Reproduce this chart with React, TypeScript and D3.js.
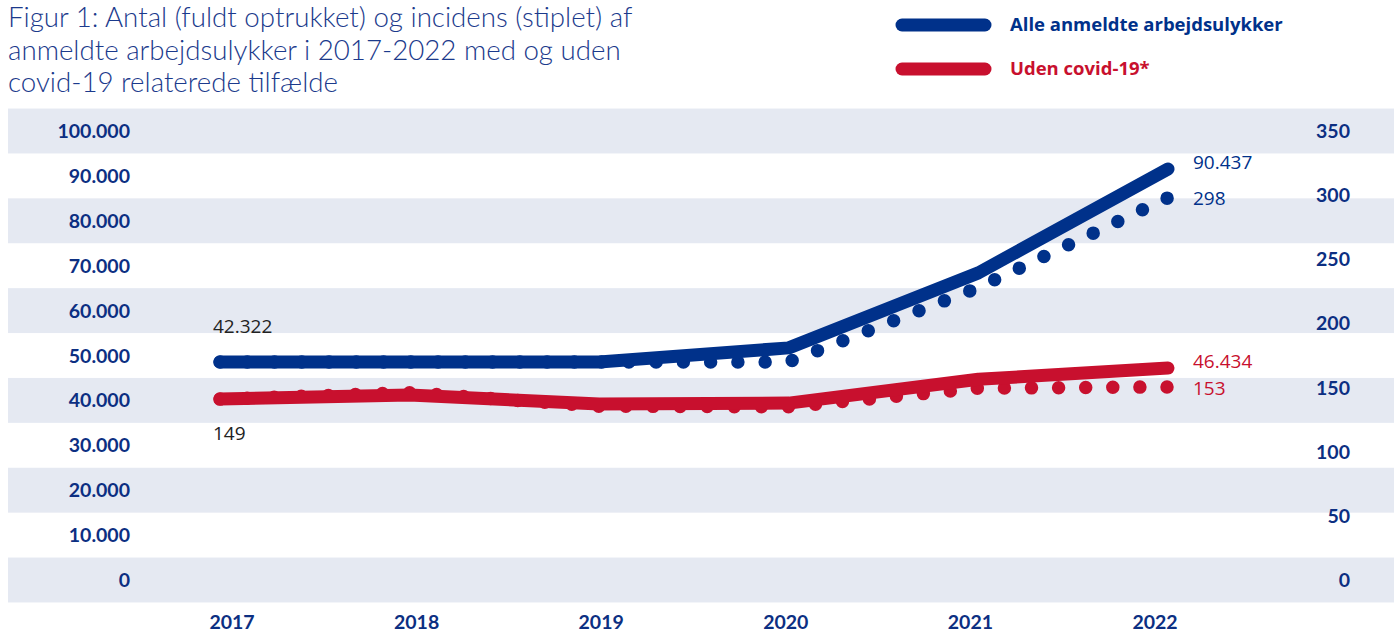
import React from "react";
import * as d3 from "d3";

// ---- data ----
const years = ["2017", "2018", "2019", "2020", "2021", "2022"];
// solid lines, left axis (antal)
const allCount = [48550, 48550, 48550, 51700, 68400, 91550];
const nonCovidCount = [40300, 41200, 39200, 39400, 44700, 47200];
// dotted lines, right axis (incidens)
const allIncidence = [170, 170, 170, 170, 228, 298];
const nonCovidIncidence = [141, 146, 135.5, 135, 149.5, 150.5];
// value labels
const allLabels = ["42.322", "90.437"];
const allIncLabels = ["298"];
const nonCovidLabels = ["46.434"];
const nonCovidIncLabels = ["149", "153"];
// axis ticks
const leftTicks = [0, 10000, 20000, 30000, 40000, 50000, 60000, 70000, 80000, 90000, 100000];
const rightTicks = [0, 50, 100, 150, 200, 250, 300, 350];
const titleLines = [
  "Figur 1: Antal (fuldt optrukket) og incidens (stiplet) af",
  "anmeldte arbejdsulykker i 2017-2022 med og uden",
  "covid-19 relaterede tilfælde",
];
const legendItems = ["Alle anmeldte arbejdsulykker", "Uden covid-19*"];

const W = 1394;
const H = 634;
const BLUE = "#00318a";
const RED = "#c8102e";
const NAVY = "#0c2f82";
const BAND = "#e5e9f2";

export default function App() {
  const xLine = d3.scalePoint<string>().domain(years).range([220, 1168]);
  const xAxis = d3.scalePoint<string>().domain(years).range([232, 1155]);
  const yLeft = d3.scaleLinear().domain([0, 100000]).range([580, 131]);
  const yRight = d3.scaleLinear().domain([0, 350]).range([580, 131]);
  const fmt = (v: number) => d3.format(",")(v).replace(/,/g, ".");

  const lineLeft = d3
    .line<number>()
    .x((_, i) => xLine(years[i]) as number)
    .y((d) => yLeft(d));
  const lineRight = d3
    .line<number>()
    .x((_, i) => xLine(years[i]) as number)
    .y((d) => yRight(d));

  const dotPattern = (vals: number[]) => {
    let L = 0;
    for (let i = 1; i < vals.length; i++) {
      const dx = (xLine(years[i]) as number) - (xLine(years[i - 1]) as number);
      const dy = yRight(vals[i]) - yRight(vals[i - 1]);
      L += Math.hypot(dx, dy);
    }
    const n = Math.round(L / 27);
    return `0 ${(L - 1) / n}`;
  };

  const bandH = yLeft(0) - yLeft(10000);
  const last = years.length - 1;
  const xEnd = (xLine(years[last]) as number) + 25;
  const xStart = (xLine(years[0]) as number) - 7;

  const axisFont = "Lato, 'Open Sans', sans-serif";
  const legendFont = "'Open Sans', Lato, sans-serif";
  const labelFont = "'Open Sans', 'Noto Sans', sans-serif";

  return (
    <svg
      width={W}
      height={H}
      style={{ position: "absolute", left: 0, top: 0, background: "#fff" }}
    >
      {/* bands */}
      {leftTicks.map((t, i) =>
        i % 2 === 0 ? (
          <rect
            key={"b" + t}
            x={8}
            y={yLeft(t) - bandH / 2}
            width={W - 8}
            height={bandH}
            fill={BAND}
          />
        ) : null
      )}
      {/* title */}
      {titleLines.map((l, i) => (
        <text
          key={"t" + i}
          x={8}
          y={27 + i * 32.5}
          fontFamily={axisFont}
          fontWeight={300}
          fontSize={27.7}
          fill="#1b3a8c"
        >
          {l}
        </text>
      ))}
      {/* legend */}
      {legendItems.map((l, i) => (
        <g key={"l" + i}>
          <line
            x1={902}
            x2={985}
            y1={25 + i * 44}
            y2={25 + i * 44}
            stroke={i === 0 ? BLUE : RED}
            strokeWidth={13}
            strokeLinecap="round"
          />
          <text
            x={1010}
            y={31 + i * 44}
            fontFamily={legendFont}
            fontWeight={700}
            fontSize={18.5}
            fill={i === 0 ? BLUE : RED}
          >
            {l}
          </text>
        </g>
      ))}
      {/* left axis */}
      {leftTicks.map((t) => (
        <text
          key={"yl" + t}
          x={130}
          y={yLeft(t) + 7}
          textAnchor="end"
          fontFamily={axisFont}
          fontWeight={700}
          fontSize={19.5}
          fill={NAVY}
        >
          {fmt(t)}
        </text>
      ))}
      {/* right axis */}
      {rightTicks.map((t) => (
        <text
          key={"yr" + t}
          x={1350}
          y={yRight(t) + 7}
          textAnchor="end"
          fontFamily={axisFont}
          fontWeight={700}
          fontSize={19.5}
          fill={NAVY}
        >
          {fmt(t)}
        </text>
      ))}
      {/* x axis */}
      {years.map((y) => (
        <text
          key={"x" + y}
          x={xAxis(y)}
          y={629}
          textAnchor="middle"
          fontFamily={axisFont}
          fontWeight={700}
          fontSize={19.5}
          fill={NAVY}
        >
          {y}
        </text>
      ))}
      {/* dotted incidence lines */}
      <path
        d={lineRight(nonCovidIncidence) || ""}
        fill="none"
        stroke={RED}
        strokeWidth={13.5}
        strokeLinecap="round"
        strokeDasharray={dotPattern(nonCovidIncidence)}
      />
      <path
        d={lineRight(allIncidence) || ""}
        fill="none"
        stroke={BLUE}
        strokeWidth={13.5}
        strokeLinecap="round"
        strokeDasharray={dotPattern(allIncidence)}
      />
      {/* solid count lines */}
      <path
        d={lineLeft(nonCovidCount) || ""}
        fill="none"
        stroke={RED}
        strokeWidth={13}
        strokeLinecap="round"
        strokeLinejoin="round"
      />
      <path
        d={lineLeft(allCount) || ""}
        fill="none"
        stroke={BLUE}
        strokeWidth={13}
        strokeLinecap="round"
        strokeLinejoin="round"
      />
      {/* value labels */}
      <text x={xStart} y={yLeft(allCount[0]) - 29} fontFamily={labelFont} fontSize={19} fill="#222">
        {allLabels[0]}
      </text>
      <text x={xStart} y={yRight(nonCovidIncidence[0]) + 41} fontFamily={labelFont} fontSize={19} fill="#222">
        {nonCovidIncLabels[0]}
      </text>
      <text x={xEnd} y={yLeft(allCount[last]) + 0} fontFamily={labelFont} fontSize={19} fill={BLUE}>
        {allLabels[1]}
      </text>
      <text x={xEnd} y={yRight(allIncidence[last]) + 7} fontFamily={labelFont} fontSize={19} fill={BLUE}>
        {allIncLabels[0]}
      </text>
      <text x={xEnd} y={yLeft(nonCovidCount[last]) + 0} fontFamily={labelFont} fontSize={19} fill={RED}>
        {nonCovidLabels[0]}
      </text>
      <text x={xEnd} y={yRight(nonCovidIncidence[last]) + 8} fontFamily={labelFont} fontSize={19} fill={RED}>
        {nonCovidIncLabels[1]}
      </text>
    </svg>
  );
}
